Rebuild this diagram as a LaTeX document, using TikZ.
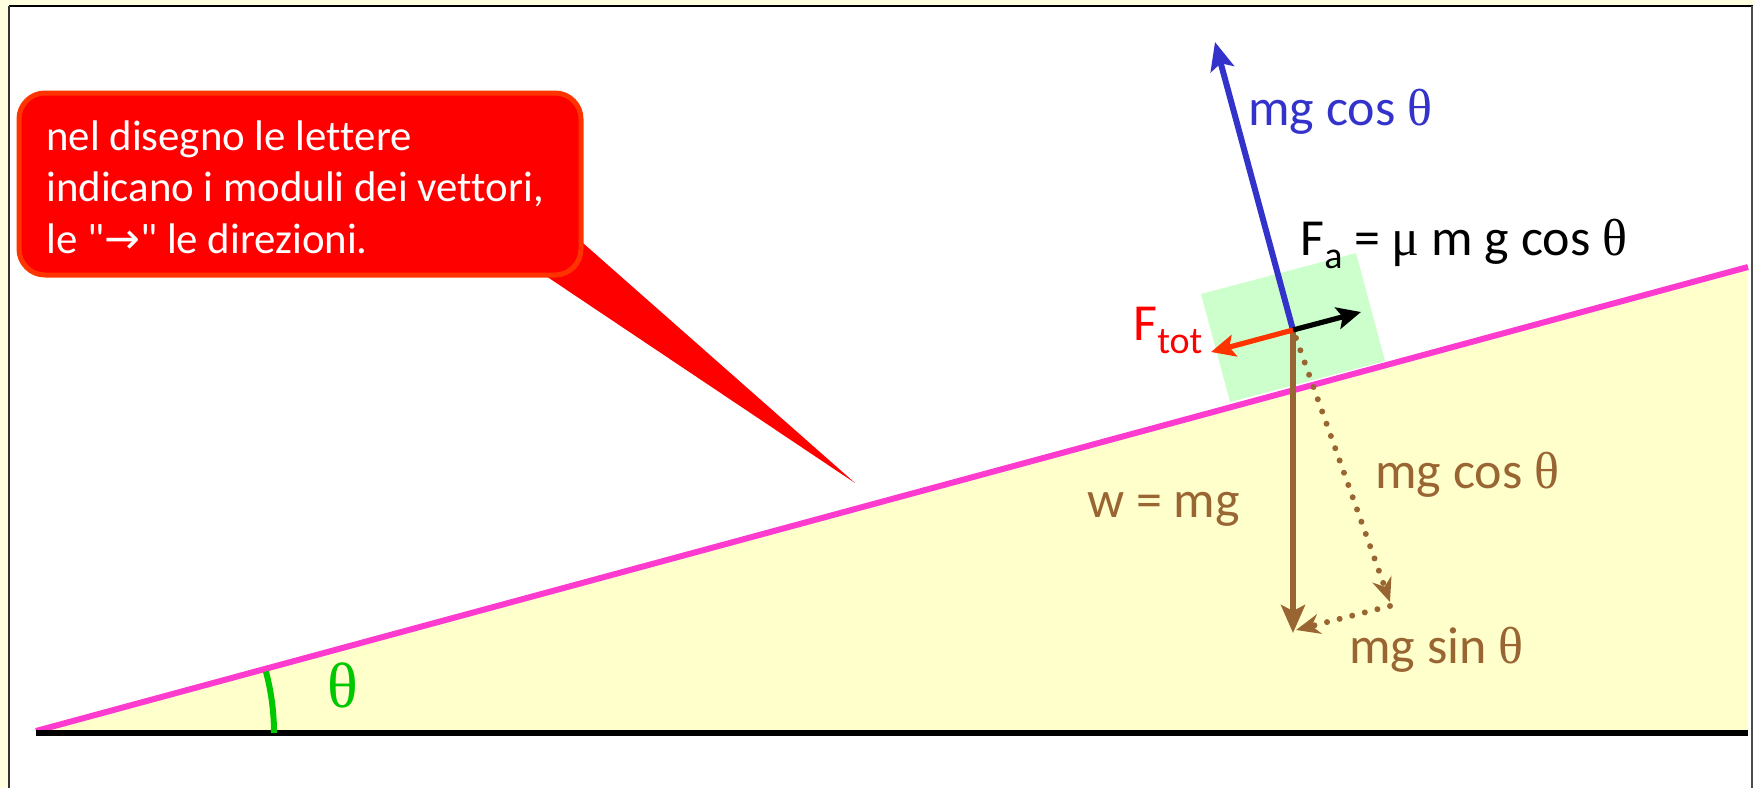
\documentclass[tikz,border=0pt]{standalone}
\usepackage{fontspec}
\defaultfontfeatures{}
\setmainfont{Carlito}[Ligatures={NoCommon,NoContextual},Contextuals={NoAlternate}]
\newfontfamily\grk{Liberation Serif}
\newcommand\sq{\XeTeXglyph\XeTeXcharglyph"0022\relax}
\usetikzlibrary{arrows.meta}
\definecolor{bgy}{RGB}{255,255,224}
\definecolor{incl}{RGB}{255,255,204}
\definecolor{blkg}{RGB}{204,255,204}
\definecolor{pinkl}{RGB}{255,58,207}
\definecolor{brn}{RGB}{153,102,51}
\definecolor{blu}{RGB}{51,51,204}
\definecolor{grn}{RGB}{0,200,0}
\definecolor{ored}{RGB}{255,51,0}
\begin{document}
\begin{tikzpicture}[x=0.5pt,y=-0.5pt,
  lbl/.style={anchor=base west,inner sep=0pt,font=\fontsize{26}{30}\selectfont},
  vec/.style={line width=3pt,-{Stealth[length=14pt,width=12pt,inset=3pt]}},
  small/.style={line width=2.6pt,-{Stealth[length=12pt,width=11pt,inset=2.5pt]}},
  dots/.style={brn,line width=3pt,line cap=round,dash pattern=on 0pt off 6.5pt,-{Stealth[length=12pt,width=10pt]}}]
\useasboundingbox (0,0) rectangle (1753,788);
% frame
\fill[bgy] (0,0) rectangle (1753,788);
\fill[white] (9,6) rectangle (1753,788);
\draw[black,line width=1.2pt] (9,6) -- (1753,6);
\draw[black!80,line width=1pt] (9,6) -- (9,788);
\draw[black!70,line width=0.8pt] (1752,6) -- (1752,788);
% incline
\coordinate (A) at (36,731);
\coordinate (B) at (1748,267);
\coordinate (C) at (1748,731);
\fill[incl] (A) -- (B) -- (C) -- cycle;
% block
\fill[blkg] (1230,402) -- (1385,361) -- (1356,253) -- (1201,294) -- cycle;
\draw[pinkl,line width=3pt] (A) -- (B);
\draw[black,line width=3pt] (36,733) -- (1748,733);
% angle
\draw[grn,line width=3pt] (274,733) arc[start angle=0,end angle=-15,radius=238];
\node[anchor=base west,inner sep=0pt,grn,font=\grk\fontsize{32}{34}\selectfont] (th) at (327,707) {θ};
% vectors
\coordinate (O) at (1293,330);
\coordinate (Pn) at (1215,42);
\coordinate (Pa) at (1361,312);
\coordinate (Pt) at (1211,352);
\coordinate (Pw) at (1293,633);
\coordinate (D0) at (1296,338);
\coordinate (D1) at (1390,602);
\coordinate (D2) at (1390,606);
\coordinate (D3) at (1296,630);
\draw[dots] (D0) -- (D1);
\draw[dots] (D2) -- (D3);
\draw[vec,brn] (O) -- (Pw);
\draw[vec,blu] (O) -- (Pn);
\draw[small,black] (O) -- (Pa);
\draw[small,ored] (O) -- (Pt);
% labels
\node[lbl,blu] (ln) at (1248,125) {mg cos {\grk θ}};
\node[lbl,black] (la) at (1300,255) {F\raisebox{-6.5pt}{\fontsize{19}{19}\selectfont a} = {\grk μ} m g cos {\grk θ}};
\node[lbl,red] (lt) at (1133,340) {F\raisebox{-6.5pt}{\fontsize{19}{19}\selectfont tot}};
\node[lbl,brn] (lw) at (1087,517) {w = mg};
\node[lbl,brn] (lc) at (1375,488) {mg cos {\grk θ}};
\node[lbl,brn] (ls) at (1349,663) {mg sin {\grk θ}};
% callout
\coordinate (T) at (855,483);
\fill[red] (575,236) -- (T) -- (540,272) -- cycle;
\draw[ored,fill=red,line width=2.5pt,rounded corners=13pt] (19,93) rectangle (581,275);
\node[anchor=north west,inner sep=0pt,white,align=left,font=\fontsize{21.4}{25.9}\selectfont] (txt) at (46,120)
  {nel disegno le let\kern0pt tere\\indicano i moduli dei vet\kern0pt tori,\\le \sq{\fontspec{DejaVu Sans}→}\sq{} le direzioni.};
\end{tikzpicture}
\end{document}
